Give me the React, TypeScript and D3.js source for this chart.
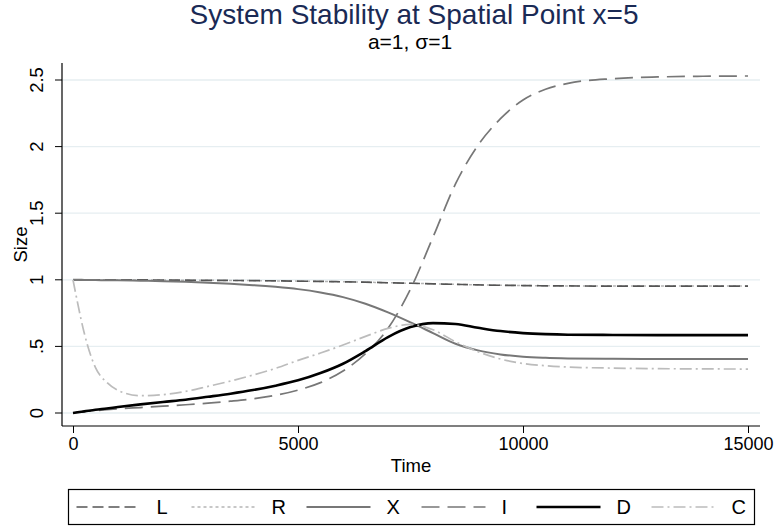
import React, { useEffect, useRef } from 'react';
import * as d3 from 'd3';

// time grid (shared by all series)
const time = [0, 100, 250, 500, 750, 1000, 1500, 2000, 2500, 3000, 3500, 4000, 4500, 5000, 5500, 6000, 6500, 7000, 7500, 8000, 8500, 9000, 9500, 10000, 10500, 11000, 12000, 13000, 14000, 15000];

// series values
const seriesL = [1.0, 1.0, 1.0, 1.0, 1.0, 0.999, 0.999, 0.998, 0.997, 0.996, 0.995, 0.994, 0.992, 0.99, 0.988, 0.985, 0.982, 0.978, 0.974, 0.97, 0.966, 0.962, 0.959, 0.957, 0.955, 0.954, 0.953, 0.953, 0.953, 0.953];
const seriesR = [1.0, 1.0, 1.0, 1.0, 1.0, 0.999, 0.999, 0.998, 0.997, 0.996, 0.995, 0.994, 0.992, 0.99, 0.988, 0.985, 0.982, 0.978, 0.974, 0.97, 0.966, 0.962, 0.959, 0.957, 0.955, 0.954, 0.953, 0.953, 0.953, 0.953];
const seriesX = [1.0, 1.0, 0.999, 0.998, 0.997, 0.996, 0.993, 0.99, 0.985, 0.978, 0.97, 0.96, 0.947, 0.93, 0.905, 0.87, 0.82, 0.755, 0.68, 0.6, 0.52, 0.47, 0.44, 0.422, 0.414, 0.41, 0.407, 0.406, 0.405, 0.405];
const seriesI = [0, 0.004, 0.01, 0.018, 0.025, 0.031, 0.041, 0.051, 0.062, 0.074, 0.089, 0.107, 0.133, 0.172, 0.228, 0.315, 0.445, 0.635, 0.93, 1.32, 1.72, 2.01, 2.21, 2.35, 2.43, 2.475, 2.51, 2.523, 2.528, 2.53];
const seriesD = [0, 0.005, 0.012, 0.024, 0.034, 0.045, 0.065, 0.083, 0.1, 0.122, 0.145, 0.172, 0.205, 0.245, 0.3, 0.37, 0.465, 0.57, 0.645, 0.675, 0.668, 0.64, 0.615, 0.6, 0.592, 0.588, 0.586, 0.585, 0.585, 0.585];
const seriesC = [1.0, 0.83, 0.6, 0.34, 0.23, 0.17, 0.13, 0.138, 0.162, 0.2, 0.24, 0.285, 0.335, 0.395, 0.45, 0.51, 0.575, 0.635, 0.665, 0.625, 0.535, 0.46, 0.405, 0.372, 0.355, 0.345, 0.337, 0.333, 0.331, 0.33];

const seriesNames = ['L', 'R', 'X', 'I', 'D', 'C'];
const xTicks = [0, 5000, 10000, 15000];
const yTicks = [0, 0.5, 1, 1.5, 2, 2.5];
const yTickLabels = ['0', '.5', '1', '1.5', '2', '2.5'];

const FONT = '"Liberation Sans", Arial, Helvetica, sans-serif';

export default function App() {
  const ref = useRef<SVGSVGElement | null>(null);

  useEffect(() => {
    const svg = d3.select(ref.current);
    svg.selectAll('*').remove();

    const W = 777, H = 532;
    // plot region
    const left = 62, right = 760, top = 63, bottom = 426;

    const x = d3.scaleLinear().domain([0, 15000]).range([73, 748]);
    const y = d3.scaleLinear().domain([0, 2.5]).range([413, 80]);

    svg.append('rect').attr('width', W).attr('height', H).attr('fill', '#fff');

    // titles
    svg.append('text')
      .attr('x', 414).attr('y', 24)
      .attr('text-anchor', 'middle')
      .attr('font-size', 28)
      .attr('fill', '#1a2a55')
      .text('System Stability at Spatial Point x=5');
    svg.append('text')
      .attr('x', 410).attr('y', 49)
      .attr('text-anchor', 'middle')
      .attr('font-size', 21)
      .attr('fill', '#000')
      .text('a=1, σ=1');

    // gridlines
    svg.append('g')
      .selectAll('line')
      .data(yTicks)
      .enter()
      .append('line')
      .attr('x1', left).attr('x2', right)
      .attr('y1', d => y(d)).attr('y2', d => y(d))
      .attr('stroke', '#e6eef1')
      .attr('stroke-width', 1.3);

    // y axis
    const yAxis = svg.append('g').attr('transform', `translate(${left},0)`)
      .call(d3.axisLeft(y).tickValues(yTicks).tickSize(7).tickFormat((d, i) => yTickLabels[i]));
    yAxis.select('.domain').remove();
    yAxis.selectAll('line').attr('stroke', '#000');
    yAxis.selectAll('text')
      .attr('font-size', 18.5)
      .attr('font-family', FONT)
      .attr('fill', '#000')
      .attr('text-anchor', 'middle')
      .attr('dy', null)
      .attr('x', null)
      .attr('transform', d => `translate(${43 - left},${y(d as number)}) rotate(-90)`)
      .attr('y', 0);
    yAxis.selectAll('.tick').attr('transform', null);
    yAxis.selectAll('.tick line').attr('y1', d => y(d as number)).attr('y2', d => y(d as number));
    svg.append('line')
      .attr('x1', left).attr('x2', left).attr('y1', top).attr('y2', bottom)
      .attr('stroke', '#000').attr('stroke-width', 1.2);

    // x axis
    const xAxis = svg.append('g').attr('transform', `translate(0,${bottom})`)
      .call(d3.axisBottom(x).tickValues(xTicks).tickSize(7).tickPadding(4).tickFormat(d3.format('d')));
    xAxis.select('.domain').remove();
    xAxis.selectAll('line').attr('stroke', '#000');
    xAxis.selectAll('text')
      .attr('font-size', 18)
      .attr('font-family', FONT)
      .attr('fill', '#000');
    svg.append('line')
      .attr('x1', left).attr('x2', right).attr('y1', bottom).attr('y2', bottom)
      .attr('stroke', '#000').attr('stroke-width', 1.2);

    // axis titles
    svg.append('text')
      .attr('transform', `translate(27,${(top + bottom) / 2}) rotate(-90)`)
      .attr('text-anchor', 'middle')
      .attr('font-size', 18.5)
      .text('Size');
    svg.append('text')
      .attr('x', 411).attr('y', 472)
      .attr('text-anchor', 'middle')
      .attr('font-size', 18.5)
      .text('Time');

    // series styles
    const styles: Record<string, any> = {
      L: { color: '#555555', width: 1.7, dash: '11,5' },
      R: { color: '#b5b5b5', width: 1.5, dash: '3,3' },
      X: { color: '#777777', width: 2, dash: null },
      I: { color: '#777777', width: 1.7, dash: '18,8' },
      D: { color: '#000000', width: 2.6, dash: null },
      C: { color: '#bcbcbc', width: 1.7, dash: '12,4,2,4' },
    };
    const values: Record<string, number[]> = {
      L: seriesL, R: seriesR, X: seriesX, I: seriesI, D: seriesD, C: seriesC,
    };

    const line = d3.line<[number, number]>()
      .x(d => x(d[0]))
      .y(d => y(d[1]))
      .curve(d3.curveMonotoneX);

    const drawOrder = ['R', 'L', 'X', 'I', 'D', 'C'];
    drawOrder.forEach(name => {
      const pts = time.map((t, i) => [t, values[name][i]] as [number, number]);
      const s = styles[name];
      svg.append('path')
        .attr('d', line(pts))
        .attr('fill', 'none')
        .attr('stroke', s.color)
        .attr('stroke-width', s.width)
        .attr('stroke-dasharray', s.dash)
        .attr('stroke-linejoin', 'round');
    });

    // legend
    const lg = svg.append('g');
    lg.append('rect')
      .attr('x', 68.5).attr('y', 489.5)
      .attr('width', 686).attr('height', 35)
      .attr('fill', '#fff')
      .attr('stroke', '#000')
      .attr('stroke-width', 1.2);
    const keyX = d3.scaleBand().domain(seriesNames).range([76.5, 766.5]);
    seriesNames.forEach(name => {
      const s = styles[name];
      const x0 = keyX(name) as number;
      lg.append('line')
        .attr('x1', x0).attr('x2', x0 + 64)
        .attr('y1', 507).attr('y2', 507)
        .attr('stroke', s.color)
        .attr('stroke-width', s.width)
        .attr('stroke-dasharray', s.dash);
      lg.append('text')
        .attr('x', x0 + 80).attr('y', 514)
        .attr('font-size', 20)
        .text(name);
    });
  }, []);

  return (
    <svg
      ref={ref}
      width={777}
      height={532}
      style={{ position: 'absolute', left: 0, top: 0, display: 'block', fontFamily: FONT }}
    />
  );
}
